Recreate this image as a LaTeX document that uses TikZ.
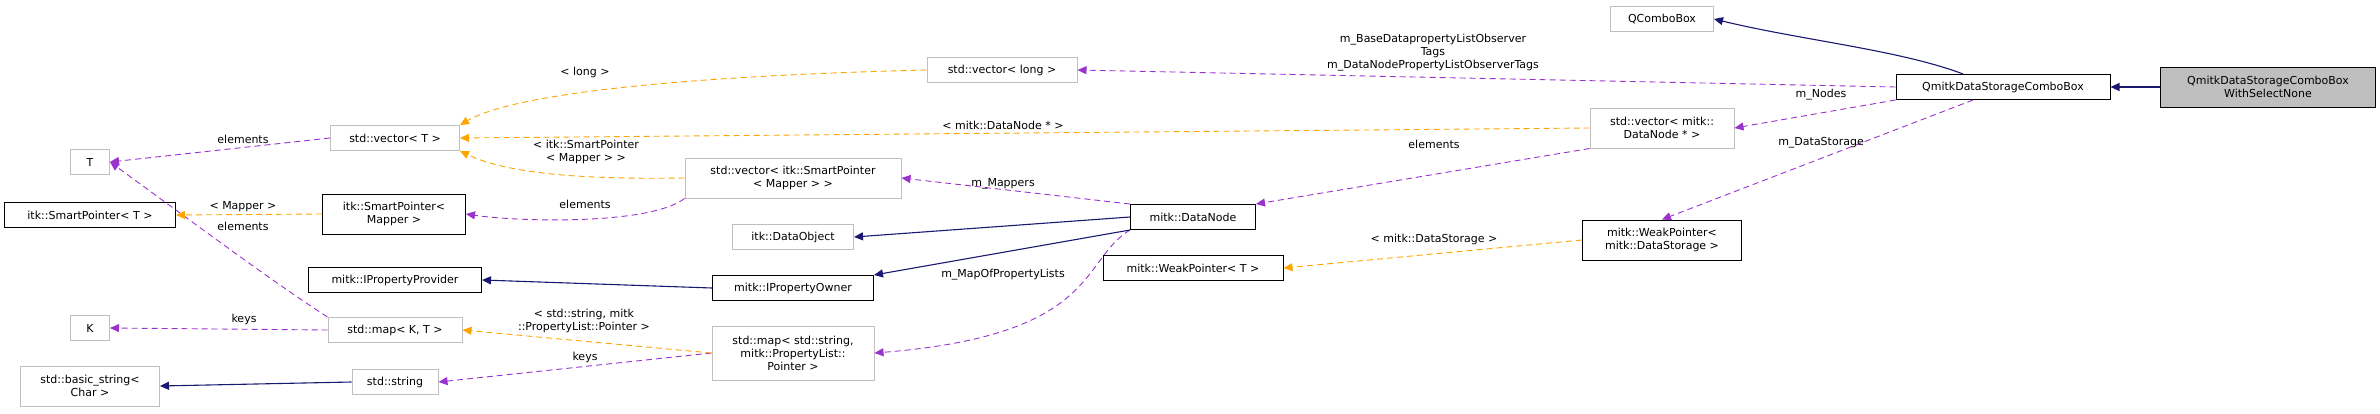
\documentclass[tikz,border=0pt]{standalone}
\usepackage{fontspec}
\setmainfont{DejaVu Sans}
\usetikzlibrary{arrows.meta}
\definecolor{edgegray}{HTML}{BFBFBF}
\definecolor{purp}{HTML}{9A32CD}
\definecolor{orng}{HTML}{FFA500}
\definecolor{navy}{HTML}{191970}
\begin{document}
\begin{tikzpicture}[x=1pt,y=-1pt,
  every node/.style={font=\fontsize{11}{13}\selectfont},
  box/.style={draw=edgegray,line width=1pt,fill=white,inner sep=1pt,align=center,minimum height=25pt},
  bbox/.style={box,draw=black},
  lbl/.style={inner sep=0pt,align=center,font=\fontsize{11}{13}\selectfont},
  use/.style={purp,dashed,dash pattern=on 6pt off 4pt,line width=0.9pt,-{Triangle[length=9pt,width=8pt]}},
  tmpl/.style={orng,dashed,dash pattern=on 6pt off 4pt,line width=0.9pt,-{Triangle[length=9pt,width=8pt]}},
  inh/.style={navy,line width=1.1pt,-{Triangle[length=9pt,width=8pt]}}]
\useasboundingbox (0,0) rectangle (2380,413);
% nodes
\node[box,minimum width=39pt] (T) at (90,162) {T};
\node[bbox,minimum width=171pt] (spT) at (90,215) {itk::SmartPointer< T >};
\node[box,minimum width=39pt] (K) at (90,328) {K};
\node[box,minimum width=139pt,minimum height=40pt] (bs) at (90,386) {std::basic\_string<\\Char >};
\node[box,minimum width=129pt] (vT) at (395,138) {std::vector< T >};
\node[bbox,minimum width=143pt,minimum height=40pt] (spM) at (394,214) {itk::SmartPointer<\\Mapper >};
\node[bbox,minimum width=173pt] (ipp) at (395,280) {mitk::IPropertyProvider};
\node[box,minimum width=134pt] (mKT) at (395,330) {std::map< K, T >};
\node[box,minimum width=86pt] (str) at (395,382) {std::string};
\node[box,minimum width=216pt,minimum height=40pt] (vSP) at (793,178) {std::vector< itk::SmartPointer\\< Mapper > >};
\node[box,minimum width=121pt] (dobj) at (793,237) {itk::DataObject};
\node[bbox,minimum width=161pt] (ipo) at (793,288) {mitk::IPropertyOwner};
\node[box,minimum width=162pt,minimum height=54pt] (mSP) at (793,353) {std::map< std::string,\\mitk::PropertyList::\\Pointer >};
\node[box,minimum width=150pt] (vL) at (1002,70) {std::vector< long >};
\node[bbox,minimum width=125pt] (dn) at (1193,217) {mitk::DataNode};
\node[bbox,minimum width=180pt] (wpT) at (1193,268) {mitk::WeakPointer< T >};
\node[box,minimum width=144pt,minimum height=40pt] (vDN) at (1662,128) {std::vector< mitk::\\DataNode * >};
\node[bbox,minimum width=159pt,minimum height=40pt] (wpDS) at (1662,240) {mitk::WeakPointer<\\mitk::DataStorage >};
\node[box,minimum width=103pt] (qcb) at (1662,19) {QComboBox};
\node[bbox,minimum width=214pt] (qds) at (2003,87) {QmitkDataStorageComboBox};
\node[bbox,fill=edgegray,minimum width=215pt,minimum height=40pt] (qsn) at (2268,87) {QmitkDataStorageComboBox\\WithSelectNone};
% uses (purple)
\draw[use] (vT.west) -- (T.east);
\draw[use] (mKT.north west) .. controls (270,280) and (190,220) .. (T.east);
\draw[use] (mKT.west) -- (K.east);
\draw[use] (vSP.south west) .. controls (650,225) and (520,222) .. (spM.east);
\draw[use] (dn.north west) -- (vSP.east);
\draw[use] (dn.south west) .. controls (1080,260) and (1100,335) .. (mSP.east);
\draw[use] (mSP.west) -- (str.east);
\draw[use] (vDN.south west) -- (dn.north east);
\draw[use] (qds.west) -- (vL.east);
\draw[use] (qds.south west) -- (vDN.east);
\draw[use] (qds.south) ++(-30,0) coordinate (qdsb) (qdsb) -- (wpDS.north);
% templates (orange)
\draw[tmpl] (vL.west) .. controls (720,75) and (520,90) .. (vT.north east);
\draw[tmpl] (vDN.west) -- (vT.east);
\draw[tmpl] (vSP.west) .. controls (560,180) and (500,170) .. (vT.south east);
\draw[tmpl] (spM.west) -- (spT.east);
\draw[tmpl] (mSP.west) -- (mKT.east);
\draw[tmpl] (wpDS.west) -- (wpT.east);
% inheritance
\draw[inh] (qsn.west) -- (qds.east);
\draw[inh] (qds.north) ++(-40,0) coordinate (qdst) (qdst) .. controls (1900,50) and (1800,40) .. (qcb.east);
\draw[inh] (dn.west) -- (dobj.east);
\draw[inh] (dn.south west) -- (ipo.north east);
\draw[inh] (ipo.west) -- (ipp.east);
\draw[inh] (str.west) -- (bs.east);
% labels
\node[lbl] (l1) at (243,139) {elements};
\node[lbl] (l2) at (243,226) {elements};
\node[lbl] (l3) at (244,319) {keys};
\node[lbl] (l4) at (585,204) {elements};
\node[lbl] (l5) at (1003,184) {m\_Mappers};
\node[lbl] (l6) at (1003,275) {m\_MapOfPropertyLists};
\node[lbl] (l7) at (585,357) {keys};
\node[lbl] (l8) at (1434,144) {elements};
\node[lbl] (l9) at (1433,53) {m\_BaseDatapropertyListObserver\\Tags\\m\_DataNodePropertyListObserverTags};
\node[lbl] (l10) at (1821,95) {m\_Nodes};
\node[lbl] (l11) at (1821,143) {m\_DataStorage};
\node[lbl] (l12) at (585,72) {< long >};
\node[lbl] (l13) at (1003,125) {< mitk::DataNode * >};
\node[lbl] (l14) at (586,152) {< itk::SmartPointer\\< Mapper > >};
\node[lbl] (l15) at (243,207) {< Mapper >};
\node[lbl] (l16) at (584,321) {< std::string, mitk\\::PropertyList::Pointer >};
\node[lbl] (l17) at (1434,239) {< mitk::DataStorage >};
\end{tikzpicture}
\end{document}
